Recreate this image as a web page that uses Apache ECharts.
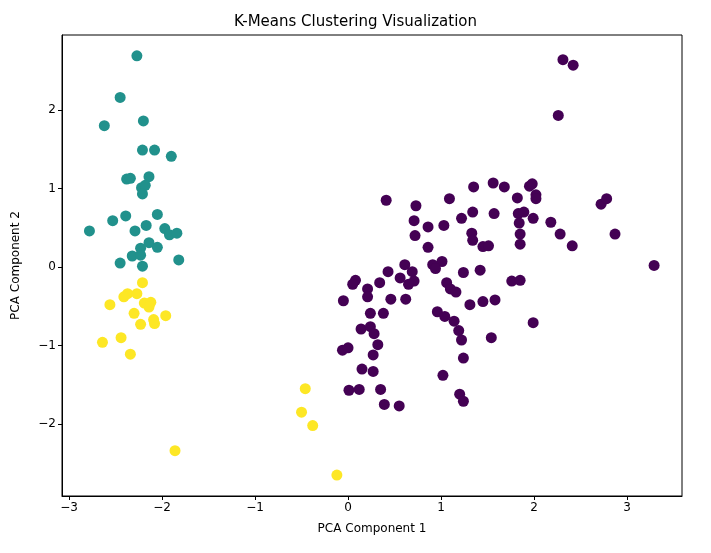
<!DOCTYPE html>
<html><head><meta charset="utf-8">
<script src="https://cdn.jsdelivr.net/npm/echarts@6/dist/echarts.min.js"></script>
<style>html,body{margin:0;padding:0;background:#fff}#c{width:711px;height:553px}</style>
</head><body><div id="c"></div>
<script>
const cluster0 = [[0.41,0.85],[0.73,0.78],[0.71,0.59],[0.72,0.40],[0.86,0.51],[1.03,0.53],[1.09,0.87],[0.86,0.25],[1.35,1.02],[1.56,1.07],[1.68,1.02],[1.95,1.03],[1.98,1.06],[1.82,0.88],[2.02,0.92],[2.02,0.87],[1.34,0.70],[1.57,0.68],[1.22,0.62],[1.83,0.68],[1.89,0.70],[1.84,0.56],[1.99,0.62],[2.18,0.57],[2.28,0.42],[2.41,0.27],[1.33,0.43],[1.34,0.34],[1.45,0.26],[1.51,0.27],[1.85,0.42],[1.85,0.29],[2.72,0.80],[2.78,0.87],[2.87,0.42],[3.29,0.02],[0.91,0.03],[1.01,0.07],[0.94,-0.02],[0.61,0.03],[0.69,-0.06],[0.71,-0.18],[0.65,-0.22],[0.56,-0.14],[0.43,-0.06],[0.34,-0.20],[0.08,-0.17],[0.05,-0.22],[0.21,-0.28],[0.21,-0.38],[-0.05,-0.43],[0.46,-0.41],[0.62,-0.41],[1.24,-0.07],[1.42,-0.04],[1.76,-0.18],[1.85,-0.17],[1.06,-0.20],[1.10,-0.28],[1.16,-0.32],[1.31,-0.48],[1.45,-0.44],[1.58,-0.42],[0.24,-0.59],[0.38,-0.59],[0.14,-0.79],[0.24,-0.76],[0.28,-0.85],[0.32,-0.99],[-0.06,-1.06],[0.00,-1.03],[0.27,-1.12],[0.15,-1.30],[0.27,-1.33],[0.96,-0.57],[1.04,-0.63],[1.14,-0.69],[1.19,-0.81],[1.22,-0.93],[1.24,-1.16],[1.54,-0.90],[1.99,-0.71],[1.02,-1.38],[0.01,-1.57],[0.12,-1.56],[0.35,-1.56],[0.39,-1.75],[0.55,-1.77],[1.20,-1.62],[1.24,-1.71],[2.26,1.93],[2.31,2.64],[2.42,2.57]];
const cluster1 = [[-2.27,2.69],[-2.45,2.16],[-2.62,1.80],[-2.20,1.86],[-2.21,1.49],[-2.08,1.49],[-1.90,1.41],[-2.38,1.12],[-2.34,1.13],[-2.14,1.15],[-2.22,1.01],[-2.18,1.04],[-2.21,0.93],[-2.53,0.59],[-2.39,0.65],[-2.05,0.67],[-2.78,0.46],[-2.29,0.46],[-2.17,0.53],[-1.97,0.49],[-1.92,0.41],[-1.84,0.43],[-2.23,0.24],[-2.14,0.31],[-2.05,0.25],[-2.32,0.14],[-2.23,0.15],[-2.45,0.05],[-2.21,0.01],[-1.82,0.09]];
const cluster2 = [[-2.21,-0.20],[-2.37,-0.34],[-2.41,-0.38],[-2.27,-0.34],[-2.56,-0.48],[-2.19,-0.46],[-2.12,-0.45],[-2.14,-0.51],[-2.30,-0.59],[-1.96,-0.62],[-2.23,-0.73],[-2.09,-0.67],[-2.08,-0.72],[-2.44,-0.90],[-2.64,-0.96],[-2.34,-1.11],[-1.86,-2.34],[-0.46,-1.55],[-0.50,-1.85],[-0.38,-2.02],[-0.12,-2.65]];
const xTicks = [-3,-2,-1,0,1,2,3];
const yTicks = [-2,-1,0,1,2];
const colors = ['#440154','#21918c','#fde725'];
const fmt = v => String(v).replace('-', '\u2212');
const font = 'DejaVu Sans';
const mkSeries = (d,i) => ({type:'scatter', data:d, symbolSize:11, itemStyle:{color:colors[i], opacity:1}});
const chart = echarts.init(document.getElementById('c'));
chart.setOption({
  animation:false,
  textStyle:{fontFamily:font},
  title:{text:'K-Means Clustering Visualization', left:'center', top:10, textStyle:{fontFamily:font, fontSize:15, fontWeight:'normal', color:'#000'}},
  grid:{left:62, right:29, top:35, bottom:57, show:true, borderColor:'#000', borderWidth:1},
  xAxis:{type:'value', min:-3.075, max:3.59, name:'PCA Component 1', nameLocation:'middle', nameGap:27,
    nameTextStyle:{fontFamily:font, fontSize:12, color:'#000'},
    splitLine:{show:false}, axisLine:{show:true, onZero:false, lineStyle:{color:'#000'}},
    axisTick:{show:true, inside:false, length:4, lineStyle:{color:'#000'}, customValues:xTicks},
    axisLabel:{color:'#000', fontSize:12, fontFamily:font, margin:6, customValues:xTicks, formatter:fmt}},
  yAxis:{type:'value', min:-2.917, max:2.955, name:'PCA Component 2', nameLocation:'middle', nameGap:40,
    nameTextStyle:{fontFamily:font, fontSize:12, color:'#000'},
    splitLine:{show:false}, axisLine:{show:true, onZero:false, lineStyle:{color:'#000'}},
    axisTick:{show:true, inside:false, length:4, lineStyle:{color:'#000'}, customValues:yTicks},
    axisLabel:{color:'#000', fontSize:12, fontFamily:font, margin:6, customValues:yTicks, formatter:fmt}},
  series:[mkSeries(cluster0,0), mkSeries(cluster1,1), mkSeries(cluster2,2)]
});
</script></body></html>
